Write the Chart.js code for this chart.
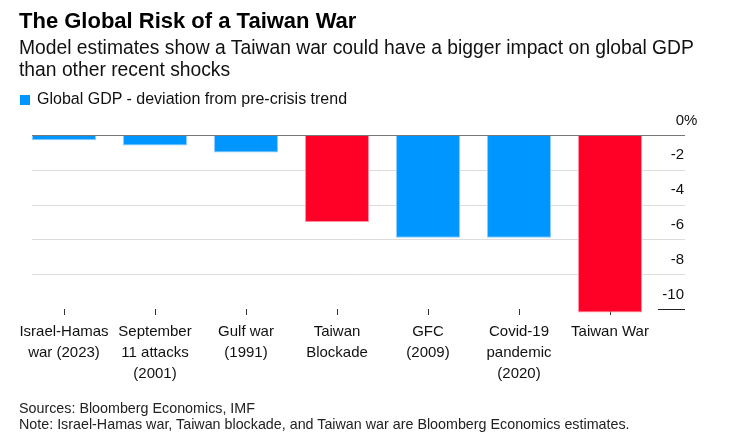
<!DOCTYPE html>
<html>
<head>
<meta charset="utf-8">
<script src="https://cdn.jsdelivr.net/npm/chart.js@4"></script>
<style>
  html, body { margin: 0; padding: 0; background: #fff; }
  body { width: 736px; height: 439px; position: relative; overflow: hidden; font-family: "Liberation Sans", Arial, sans-serif; color: #000; }
  #wrap { position: absolute; left: 0; top: 0; width: 736px; height: 439px; }
  .t { position: absolute; left: 19px; white-space: nowrap; }
  #title { top: 10px; font-size: 22px; font-weight: bold; line-height: 22px; }
  #sub { top: 37px; font-size: 19.3px; line-height: 22px; color: #111; }
  #legend { top: 90px; font-size: 16px; line-height: 18px; color: #111; left: 20px; }
  #legend .sw { display: inline-block; width: 10px; height: 10px; background: #0096ff; margin-right: 7px; vertical-align: -1px; }
  #foot { top: 400px; font-size: 14.3px; line-height: 16px; color: #222; }
</style>
</head>
<body>
<div id="wrap"><canvas id="c" width="736" height="439"></canvas></div>
<div class="t" id="title">The Global Risk of a Taiwan War</div>
<div class="t" id="sub">Model estimates show a Taiwan war could have a bigger impact on global GDP<br>than other recent shocks</div>
<div class="t" id="legend"><span class="sw"></span>Global GDP - deviation from pre-crisis trend</div>
<div class="t" id="foot">Sources: Bloomberg Economics, IMF<br>Note: Israel-Hamas war, Taiwan blockade, and Taiwan war are Bloomberg Economics estimates.</div>
<script>
const categories = [
  ["Israel-Hamas", "war (2023)"],
  ["September", "11 attacks", "(2001)"],
  ["Gulf war", "(1991)"],
  ["Taiwan", "Blockade"],
  ["GFC", "(2009)"],
  ["Covid-19", "pandemic", "(2020)"],
  ["Taiwan War"]
];
const gdpDeviation = [-0.3, -0.6, -1.0, -5.0, -5.9, -5.9, -10.2];
const isEstimateScenario = [false, false, false, true, false, false, true];
const yTicks = [0, -2, -4, -6, -8, -10];
const yTickLabels = ["0", "-2", "-4", "-6", "-8", "-10"];

const BLUE = "#0096ff", RED = "#ff0026";
const BLUE_B = "#8ccbff", RED_B = "#ff8fa0";

const gridPlugin = {
  id: "bbgGrid",
  beforeDatasetsDraw(chart) {
    const { ctx, chartArea, scales } = chart;
    const y = scales.y;
    const x0 = chartArea.left + 13.5, x1 = chartArea.right + 29.5;
    ctx.save();
    yTicks.forEach((v, i) => {
      const py = Math.round(y.getPixelForValue(v)) + 0.5;
      if (v === 0) return;
      ctx.beginPath();
      if (i === yTicks.length - 1) {
        ctx.strokeStyle = "#222";
        ctx.lineWidth = 1;
        ctx.moveTo(x1 - 27, py); ctx.lineTo(x1, py);
      } else {
        ctx.strokeStyle = "#dcdcdc";
        ctx.lineWidth = 1;
        ctx.moveTo(x0, py); ctx.lineTo(x1, py);
      }
      ctx.stroke();
    });
    ctx.restore();
  },
  afterDatasetsDraw(chart) {
    const { ctx, chartArea, scales } = chart;
    const y = scales.y;
    const x0 = chartArea.left + 13.5, x1 = chartArea.right + 29.5;
    ctx.save();
    const pz = Math.round(y.getPixelForValue(0)) + 0.5;
    ctx.strokeStyle = "#777";
    ctx.lineWidth = 1.2;
    ctx.beginPath(); ctx.moveTo(x0, pz); ctx.lineTo(x1, pz); ctx.stroke();
    ctx.fillStyle = "#111";
    ctx.font = "15px 'Liberation Sans', Arial, sans-serif";
    ctx.textBaseline = "middle";
    yTicks.forEach((v, i) => {
      const py = y.getPixelForValue(v) - 14.5;
      ctx.textAlign = "right";
      ctx.fillText(yTickLabels[i], x1 - 1, py);
      if (v === 0) {
        ctx.textAlign = "left";
        ctx.fillText("%", x1 - 1, py);
      }
    });
    ctx.restore();
  }
};

new Chart(document.getElementById("c"), {
  type: "bar",
  data: {
    labels: categories,
    datasets: [{
      label: "Global GDP - deviation from pre-crisis trend",
      data: gdpDeviation,
      backgroundColor: isEstimateScenario.map(r => r ? RED : BLUE),
      borderColor: isEstimateScenario.map(r => r ? RED_B : BLUE_B),
      borderWidth: 1,
      borderSkipped: "start",
      categoryPercentage: 1,
      barPercentage: 0.703,
      clip: false
    }]
  },
  options: {
    responsive: false,
    animation: false,
    devicePixelRatio: 1,
    layout: { padding: { left: 18.5, right: 80.5, top: 135, bottom: 40 } },
    plugins: { legend: { display: false }, tooltip: { enabled: false }, title: { display: false } },
    scales: {
      x: {
        grid: { display: true, drawOnChartArea: false, drawTicks: true, tickLength: 6, offset: false, color: "#333", tickColor: "#333" },
        border: { display: false },
        ticks: { color: "#111", font: { family: "'Liberation Sans', Arial, sans-serif", size: 15, lineHeight: 1.38 }, padding: 7, maxRotation: 0, autoSkip: false },
        afterFit(scale) { scale.height = 90; }
      },
      y: {
        display: false,
        min: -10, max: 0
      }
    }
  },
  plugins: [gridPlugin]
});
</script>
</body>
</html>
